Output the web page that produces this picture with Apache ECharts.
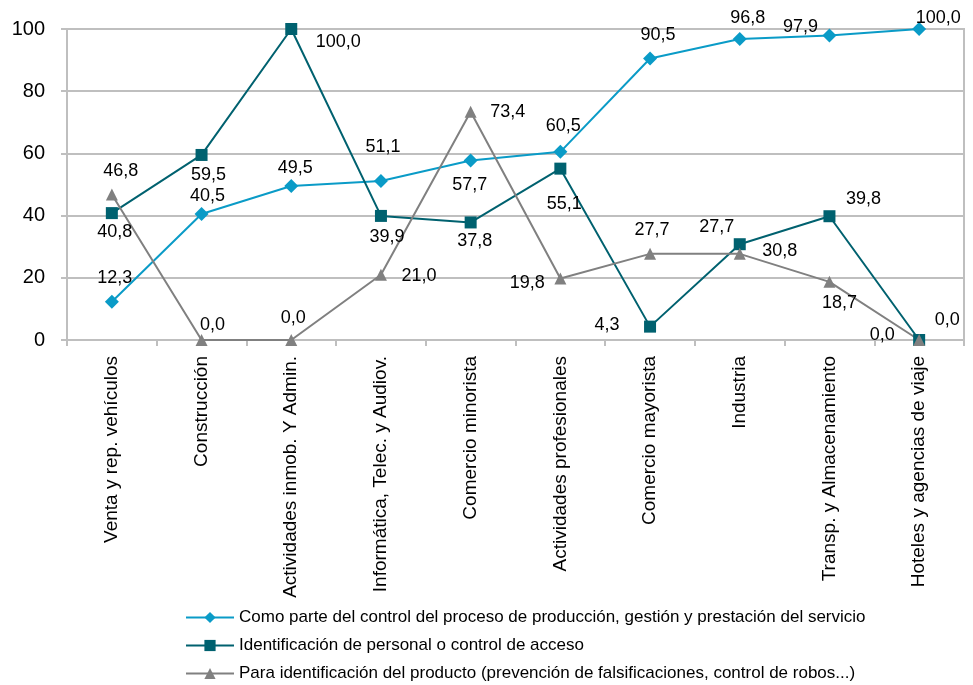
<!DOCTYPE html>
<html><head><meta charset="utf-8">
<script src="https://cdn.jsdelivr.net/npm/echarts@6/dist/echarts.min.js"></script>
<style>html,body{margin:0;padding:0;background:#fff}#c{width:973px;height:685px}</style>
</head><body><div id="c"></div>
<script>
const categories = ["Venta y rep. vehículos","Construcción","Actividades inmob. Y Admin.","Informática, Telec. y Audiov.","Comercio minorista","Actividades profesionales","Comercio mayorista","Industria","Transp. y Almacenamiento","Hoteles y agencias de viaje"];
const seriesNames = ["Como parte del control del proceso de producción, gestión y prestación del servicio","Identificación de personal o control de acceso","Para identificación del producto (prevención de falsificaciones, control de robos...)"];
const controlProceso = [12.3,40.5,49.5,51.1,57.7,60.5,90.5,96.8,97.9,100.0];
const identPersonal = [40.8,59.5,100.0,39.9,37.8,55.1,4.3,30.8,39.8,0.0];
const identProducto = [46.8,0.0,0.0,21.0,73.4,19.8,27.7,27.7,18.7,0.0];
const yTicks = [0,20,40,60,80,100];

// label offsets (layout only)
const offs1 = [[3,-24],[6,-18],[4,-18],[2,-34],[-1,24],[3,-26],[8,-24],[8,-21],[-29,-8],[19,-11]];
const offs2 = [[3,19],[7,20],[47,13],[6,21],[4,19],[4,35],[-43,-2],[40,7],[34,-17],[28,-20]];
const offs3 = [[9,-23],[11,-15],[2,-22],[38,1],[37,0],[-33,5],[2,-24],[-23,-27],[10,21],[-37,-5]];

const FONT = "'Liberation Sans', Arial, sans-serif";
const fmt = v => v.toFixed(1).replace('.', ',');
function mk(vals, offs){
  return vals.map((v,i)=>({value:v,label:{offset:offs[i]}}));
}
function ser(name, vals, offs, color, symbol, size){
  return {
    name, type:'line', data: mk(vals, offs), symbol, symbolSize:size,
    itemStyle:{color}, lineStyle:{color, width:2},
    label:{show:true, position:'inside', formatter:p=>fmt(p.value), color:'#000', fontSize:18, fontFamily:FONT},
    emphasis:{disabled:true}, animation:false
  };
}
const chart = echarts.init(document.getElementById('c'));
chart.setOption({
  animation:false,
  backgroundColor:'#fff',
  grid:{left:67,right:9,top:29,bottom:345,show:true,borderColor:'#BFBFBF',borderWidth:2,backgroundColor:'transparent'},
  legend:{orient:'vertical',left:185,top:609,padding:0,height:80,itemGap:11,itemWidth:48,itemHeight:14,
    textStyle:{fontSize:17,fontFamily:FONT,color:'#000'},
    data:seriesNames},
  xAxis:{type:'category',data:categories,boundaryGap:true,
    axisLine:{lineStyle:{color:'#BFBFBF',width:2}},
    axisTick:{show:true,length:6,lineStyle:{color:'#BFBFBF',width:2}},
    axisLabel:{rotate:90,fontSize:19,fontFamily:FONT,color:'#000',margin:16,interval:0}},
  yAxis:{type:'value',min:0,max:100,interval:20,
    axisLine:{show:true,lineStyle:{color:'#BFBFBF',width:2}},
    axisTick:{show:true,length:6,lineStyle:{color:'#BFBFBF',width:2}},
    splitLine:{lineStyle:{color:'#BFBFBF',width:2}},
    axisLabel:{fontSize:20,fontFamily:FONT,color:'#000',margin:22,
      formatter:v=>yTicks.includes(v)?String(v):''}},
  series:[
    ser(seriesNames[0], controlProceso, offs1, '#0A9BC7', 'diamond', 14),
    ser(seriesNames[1], identPersonal, offs2, '#00616F', 'rect', 12),
    ser(seriesNames[2], identProducto, offs3, '#808080', 'triangle', 12)
  ]
});
</script></body></html>
